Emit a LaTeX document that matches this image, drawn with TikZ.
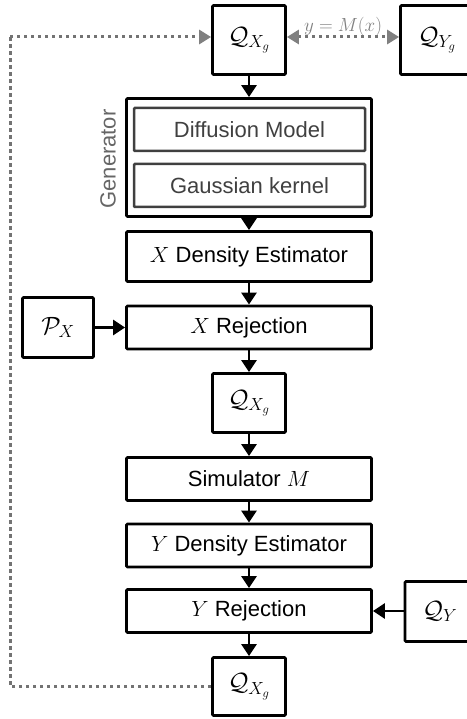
\RequirePackage{fix-cm}
\documentclass[tikz,border=0pt]{standalone}
\usepackage{fontspec}
\setmainfont{Liberation Sans}
\usetikzlibrary{arrows.meta}
\definecolor{dotgray}{HTML}{737373}
\definecolor{ingray}{HTML}{404040}
\newcommand{\qmath}[1]{{\fontsize{25}{30}\selectfont$#1$}}
\begin{document}
\begin{tikzpicture}[x=1pt,y=-1pt,
  every node/.style={font=\fontsize{22}{26}\selectfont, inner sep=0pt},
  box/.style={draw=black, line width=2.8pt, rounded corners=1pt, minimum width=245pt},
  sq/.style={draw=black, line width=2.8pt, rounded corners=1pt, minimum width=73pt},
  inbox/.style={draw=ingray, line width=2.5pt, rounded corners=1pt, text=ingray, minimum width=231pt, minimum height=43pt},
  arr/.style={line width=2.8pt, -{Triangle[width=15pt,length=12pt]}},
  dotline/.style={draw=dotgray, line width=3pt, dash pattern=on 3.3pt off 3.7pt},
  gtip/.style={-{Triangle[width=14pt,length=12pt,fill=gray,color=gray]}},
  gboth/.style={{Triangle[width=14pt,length=12pt,fill=gray,color=gray]}-{Triangle[width=14pt,length=12pt,fill=gray,color=gray]}},
]
\useasboundingbox (0,0) rectangle (466,719);

% nodes
\node[sq, minimum height=69pt] (qtop) at (249,40) {\qmath{\mathcal{Q}_{X_g}}};
\node[sq, minimum height=69pt] (qyg) at (437,40) {\qmath{\mathcal{Q}_{Y_g}}};
\node[box, minimum height=118pt] (gen) at (249,157.5) {};
\node[inbox] (diff) at (249.5,129.5) {Diffusion Model};
\node[inbox] (gauss) at (249.5,185.5) {Gaussian kernel};
\node[rotate=90, text=ingray!80!white] (genlab) at (108,159) {Generator};
\node[box, minimum height=50pt] (xde) at (249,256.5) {$X$ Density Estimator};
\node[box, minimum height=43pt] (xrej) at (249,327.5) {$X$ Rejection};
\node[sq, minimum height=60pt, minimum width=71pt] (px) at (58,327.5) {\qmath{\mathcal{P}_X}};
\node[sq, minimum height=59pt] (qmid) at (249,403) {\qmath{\mathcal{Q}_{X_g}}};
\node[box, minimum height=43pt] (sim) at (249,479) {Simulator $M$};
\node[box, minimum height=43pt] (yde) at (249,545.5) {$Y$ Density Estimator};
\node[box, minimum height=43pt] (yrej) at (249,611) {$Y$ Rejection};
\node[sq, minimum height=60pt, minimum width=70pt] (qy) at (440,611.5) {\qmath{\mathcal{Q}_Y}};
\node[sq, minimum height=58pt] (qbot) at (249,686.5) {\qmath{\mathcal{Q}_{X_g}}};

% solid arrows
\draw[arr] (qtop) -- (gen);
\draw[arr] (gen) -- (xde);
\draw[arr] (xde) -- (xrej);
\draw[arr] (xrej) -- (qmid);
\draw[arr] (qmid) -- (sim);
\draw[arr] (sim) -- (yde);
\draw[arr] (yde) -- (yrej);
\draw[arr] (yrej) -- (qbot);
\draw[arr] (px) -- (xrej);
\draw[arr] (qy.west |- yrej) -- (yrej);

% dotted feedback loop
\coordinate (c1) at (10,686.5);
\coordinate (c2) at (10,37);
\draw[dotline] (qbot.west) -- (c1) -- (c2);
\draw[dotline, gtip] (c2) -- (c2 -| qtop.west);

% double arrow
\draw[dotline, gboth] ([yshift=3pt]qtop.east) -- node[midway, anchor=south, yshift=-1pt, text=gray, font=\fontsize{19}{22}\selectfont] (lab) {$y=M(x)$} ([yshift=3pt]qyg.west);
\end{tikzpicture}
\end{document}
